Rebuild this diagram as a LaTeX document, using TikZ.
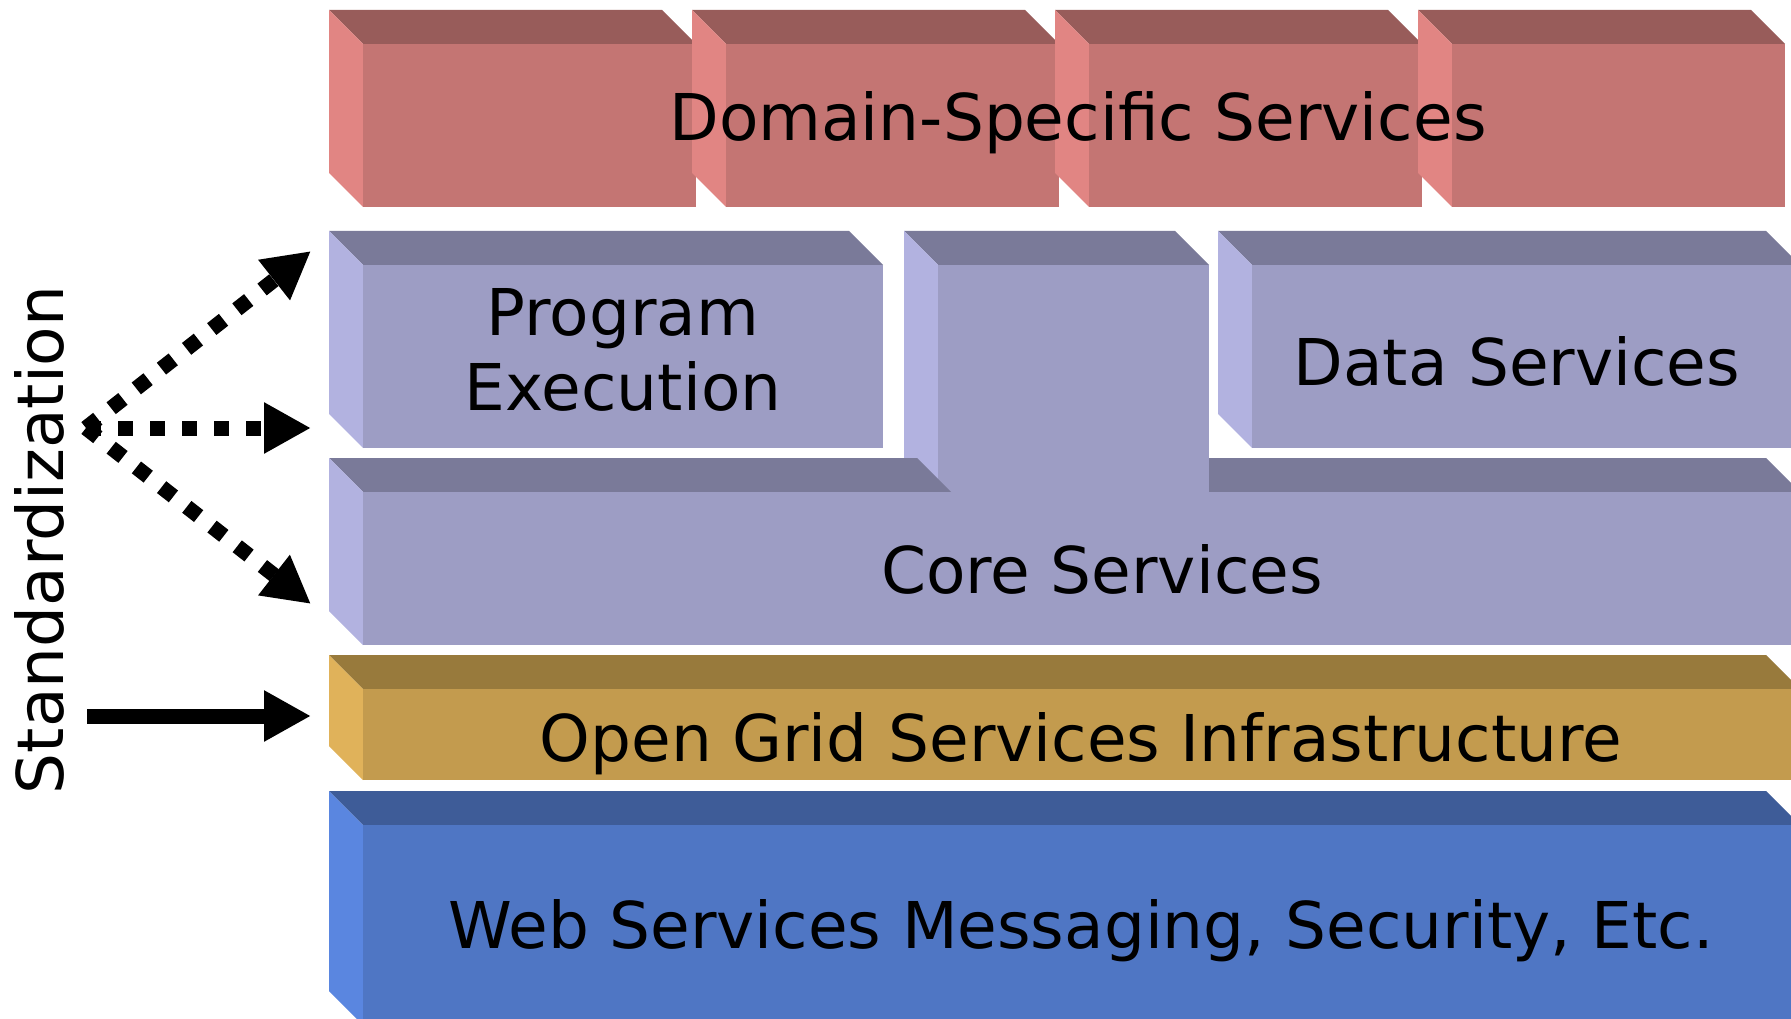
\documentclass[tikz,border=0pt]{standalone}
\usepackage{fontspec}
\setmainfont{DejaVu Sans}
\usetikzlibrary{arrows.meta}
\definecolor{redT}{HTML}{985C5A}
\definecolor{redF}{HTML}{C47573}
\definecolor{redS}{HTML}{E18583}
\definecolor{lavT}{HTML}{7A7A99}
\definecolor{lavF}{HTML}{9D9DC4}
\definecolor{lavS}{HTML}{B2B2E0}
\definecolor{goldT}{HTML}{987A3C}
\definecolor{goldF}{HTML}{C39B4E}
\definecolor{goldS}{HTML}{E0B25A}
\definecolor{blueT}{HTML}{3E5C98}
\definecolor{blueF}{HTML}{4F76C4}
\definecolor{blueS}{HTML}{5A86E0}
\begin{document}
\begin{tikzpicture}[x=1pt,y=-1pt,declare function={d=34;},
	font=\fontsize{64.5}{75}\selectfont,
	lbl/.style={anchor=base,inner sep=0pt},
	std/.style={line width=15pt,-{Triangle[length=47pt,width=48pt]}},
	dots/.style={std,dash pattern=on 15pt off 17pt}]
	\path[use as bounding box] (0,0) rectangle (1791,1019);
	\clip (0,0) rectangle (1791,1019);
	% slabs: front left/top/right/bottom/colour
	\foreach \l/\t/\r/\b/\col in {363/44/696/207/red, 726/44/1059/207/red, 1089/44/1422/207/red, 1452/44/1785/207/red,
		363/265/883/448/lav, 1252/265/1800/448/lav, 1209/492/1800/645/lav, 938/265/1209/645/lav, 363/492/951/645/lav,
		363/689/1800/780/gold, 363/825/1800/1025/blue}{
		\fill[fill=\col T] ({\l-d},{\t-d}) -- ({\r-d},{\t-d}) -- (\r,\t) -- (\l,\t) -- cycle;
		\fill[fill=\col S] ({\l-d},{\t-d}) -- (\l,\t) -- (\l,\b) -- ({\l-d},{\b-d}) -- cycle;
		\fill[fill=\col F] (\l,\t) rectangle (\r,\b);
	}
	\node[lbl] (dss) at (1078,141) {Domain-Specific Services};
	\node[lbl,align=center] (pex) at (623,410) {Program\\Execution};
	\node[lbl] (dat) at (1517,385) {Data Services};
	\node[lbl] (cor) at (1102,593) {Core Services};
	\node[lbl] (ogs) at (1081,761) {Open Grid Services Infrastructure};
	\node[lbl] (web) at (1081,948) {Web Services Messaging, Security, Etc.};
	\node[lbl,rotate=90] (stz) at (63,540) {Standardization};
	\path (86,428) coordinate (src) (311,251) coordinate (upT) (311,428) coordinate (midT)
		(311,604) coordinate (lowT) (87,716) coordinate (solS) (311,716) coordinate (solT);
	\foreach \t in {upT,midT,lowT}{\draw[dots] (src) -- (\t);}
	\draw[std] (solS) -- (solT);
\end{tikzpicture}
\end{document}
